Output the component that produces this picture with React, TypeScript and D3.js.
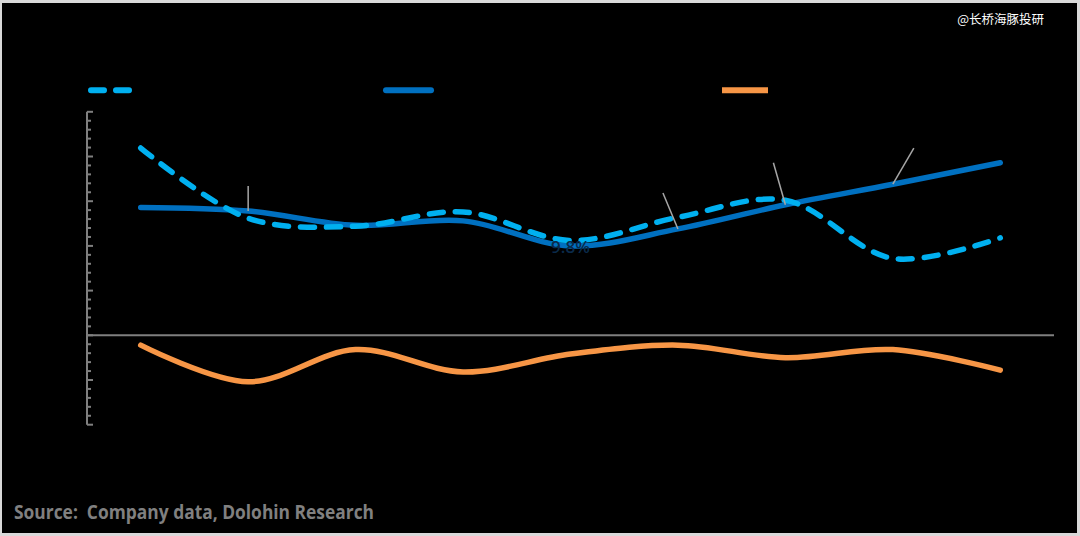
import React from "react";
import * as d3 from "d3";

// ---- data (values in %) ----
const categories = ["P1", "P2", "P3", "P4", "P5", "P6", "P7", "P8", "P9"];
const seriesDashed = [20.95, 13.1, 12.2, 13.8, 10.6, 13.2, 15.1, 8.6, 10.9];
const seriesSolid = [14.3, 13.9, 12.3, 12.8, 10.0, 11.9, 14.6, 16.9, 19.3];
const seriesOrange = [-1.1, -5.2, -1.6, -4.1, -2.1, -1.1, -2.5, -1.6, -3.9];
const yDomain: [number, number] = [-10, 25];
const minorStep = 1;
const majorStep = 5;
// leader lines of data labels on the solid series: [index, dx, dy]
const leaders: [number, number, number][] = [
  [1, 0, -25],
  [5, -15, -36],
  [6, -12, -42],
  [7, 21, -36],
];
const labelText = "9.8%";
const labelIndex = 4;
const watermark = "@长桥海豚投研";
const sourceText = "Source:  Company data, Dolohin Research";

const W = 1080;
const H = 536;
const plot = { left: 87, right: 1054, top: 111.8, bottom: 424.7 };

export default function App() {
  const x = d3
    .scaleBand<string>()
    .domain(categories)
    .range([plot.left, plot.right])
    .padding(0);
  const cx = (i: number) => (x(categories[i]) as number) + x.bandwidth() / 2;
  const y = d3.scaleLinear().domain(yDomain).range([plot.bottom, plot.top]);

  const line = d3
    .line<number>()
    .x((_, i) => cx(i))
    .y((v) => y(v))
    .curve(d3.curveCatmullRom.alpha(0.5));

  const ticks = d3.range(yDomain[0], yDomain[1] + 0.001, minorStep);
  const axisColor = "#7f7f7f";

  const DASH = "#00B0F0";
  const SOLID = "#0070C0";
  const ORANGE = "#F79646";

  return (
    <svg
      width={W}
      height={H}
      style={{ position: "absolute", left: 0, top: 0, display: "block" }}
    >
      <rect x={0} y={0} width={W} height={H} fill="#d9d9d9" />
      <rect x={2} y={3} width={1075} height={530} fill="#000" />

      {/* watermark */}
      <text
        x={1044}
        y={24}
        textAnchor="end"
        fill="#fff"
        fontSize={12.5}
        fontFamily="'Noto Sans CJK SC', sans-serif"
      >
        {watermark}
      </text>

      {/* legend */}
      <line x1={91} x2={129} y1={90.3} y2={90.3} stroke={DASH} strokeWidth={6} strokeLinecap="round" strokeDasharray="13 12" />
      <line x1={386} x2={431} y1={90.3} y2={90.3} stroke={SOLID} strokeWidth={6} strokeLinecap="round" />
      <line x1={722} x2={768} y1={90.3} y2={90.3} stroke={ORANGE} strokeWidth={6} strokeLinecap="butt" />

      {/* y axis */}
      <line x1={plot.left} x2={plot.left} y1={y(yDomain[1])} y2={y(yDomain[0])} stroke={axisColor} strokeWidth={2} />
      {ticks.map((t) => {
        const major = Math.abs(t % majorStep) < 1e-6;
        return (
          <line
            key={t}
            x1={plot.left}
            x2={plot.left + (major ? 6 : 4)}
            y1={y(t)}
            y2={y(t)}
            stroke={axisColor}
            strokeWidth={2}
          />
        );
      })}
      {/* zero line */}
      <line x1={plot.left} x2={plot.right} y1={y(0)} y2={y(0)} stroke={axisColor} strokeWidth={2} />

      {/* series */}
      <path d={line(seriesOrange) || ""} fill="none" stroke={ORANGE} strokeWidth={5.5} strokeLinecap="round" />
      <path d={line(seriesSolid) || ""} fill="none" stroke={SOLID} strokeWidth={5.5} strokeLinecap="round" />
      <path d={line(seriesDashed) || ""} fill="none" stroke={DASH} strokeWidth={5.5} strokeLinecap="round" strokeDasharray="14 12" />

      {/* leader lines */}
      {leaders.map(([i, dx, dy]) => (
        <line
          key={i}
          x1={cx(i)}
          y1={y(seriesSolid[i])}
          x2={cx(i) + dx}
          y2={y(seriesSolid[i]) + dy}
          stroke="#a6a6a6"
          strokeWidth={1.5}
        />
      ))}

      {/* data label */}
      <text
        x={cx(labelIndex)}
        y={y(seriesSolid[labelIndex]) + 7}
        textAnchor="middle"
        fill="#0a2a4a"
        fontSize={17}
        fontWeight={600}
        fontFamily="'Open Sans', sans-serif"
      >
        {labelText}
      </text>

      {/* source */}
      <text
        x={14}
        y={519}
        fill="#808080"
        fontSize={19}
        fontWeight={700}
        fontFamily="'Open Sans', sans-serif"
        textLength={360}
        lengthAdjust="spacingAndGlyphs"
        style={{ whiteSpace: "pre" }}
      >
        {sourceText}
      </text>
    </svg>
  );
}
